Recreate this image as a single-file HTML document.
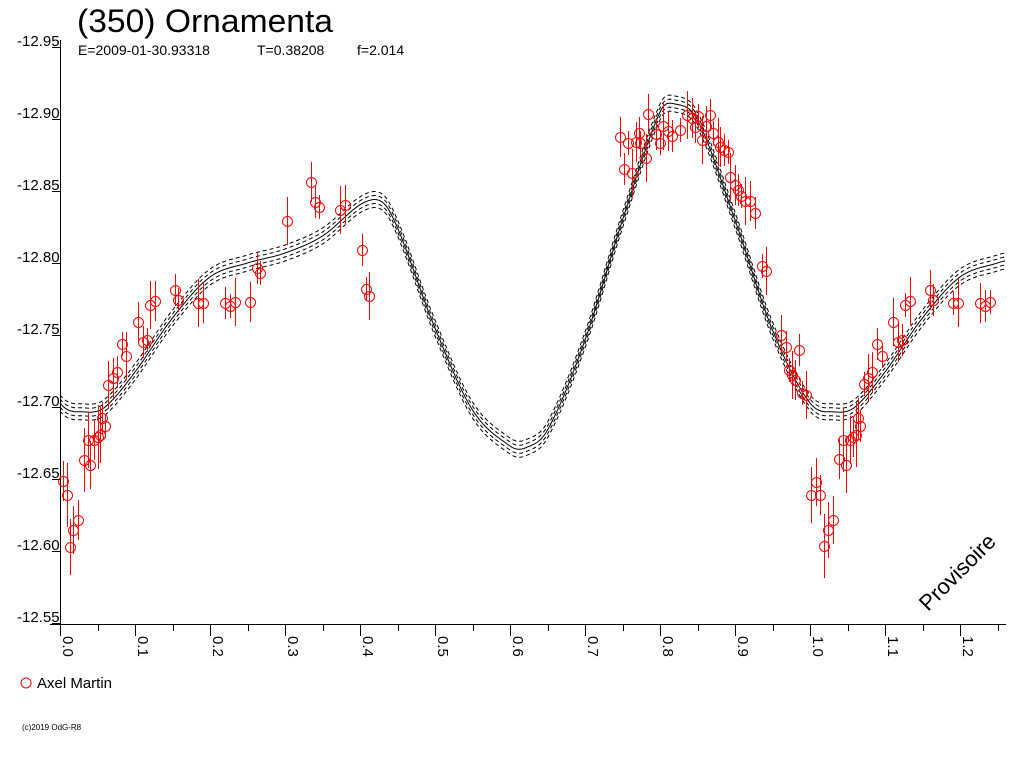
<!DOCTYPE html>
<html><head><meta charset="utf-8"><style>
body{margin:0;background:#fff;width:1024px;height:768px;overflow:hidden;font-family:"Liberation Sans",sans-serif}
svg{position:absolute;left:0;top:0}
</style></head><body>
<svg id="s" width="1024" height="768" xmlns="http://www.w3.org/2000/svg" font-family="Liberation Sans, sans-serif">
<text x="77" y="32" font-size="32" textLength="256" lengthAdjust="spacingAndGlyphs">(350) Ornamenta</text>
<text x="78" y="55" font-size="14">E=2009-01-30.93318</text>
<text x="257" y="55" font-size="14">T=0.38208</text>
<text x="357" y="55" font-size="14">f=2.014</text>
<line x1="60.5" y1="40" x2="60.5" y2="624" stroke="#000"/>
<line x1="50" y1="624.5" x2="1006" y2="624.5" stroke="#000"/>
<g id="ax" font-size="15"></g>
<g id="cv" fill="none" stroke="#000" stroke-width="1"></g>
<g id="pts" fill="none" stroke="#f00" stroke-width="1"></g>
<circle cx="26" cy="683" r="5" fill="none" stroke="#f00"/>
<text x="37" y="688" font-size="15">Axel Martin</text>
<text x="22" y="730" font-size="8">(c)2019 OdG-R8</text>
<text x="0" y="0" font-size="22" transform="translate(928,612) rotate(-45)">Provisoire</text>
</svg>
<script>
var NS="http://www.w3.org/2000/svg";
function el(p,t,a,txt){var e=document.createElementNS(NS,t);for(var k in a)e.setAttribute(k,a[k]);if(txt)e.textContent=txt;p.appendChild(e);return e;}
var ax=document.getElementById('ax');
var labs=["-12.95","-12.90","-12.85","-12.80","-12.75","-12.70","-12.65","-12.60","-12.55"];
for(var i=0;i<9;i++){var y=47+i*72;el(ax,'line',{x1:52,y1:y+.5,x2:61,y2:y+.5,stroke:'#000'});el(ax,'text',{x:17,y:y-1},labs[i]);}
for(var i=0;i<=25;i++){var x=60+i*37.5;var X=Math.round(x)+.5;el(ax,'line',{x1:X,y1:624,x2:X,y2:(i%2?631:636),stroke:'#000'});
 if(i%2==0){el(ax,'text',{transform:'translate('+(Math.round(x)+3)+',636) rotate(90)',x:0,y:0},(i/20).toFixed(1));}}
var cp=[[0,403],[.035,412],[.06,407],[.10,372],[.15,318],[.20,277],[.25,263],[.30,253],[.35,236],[.41,201],[.44,212],[.50,328],[.55,410],[.60,446],[.62,448],[.65,430],[.70,340],[.75,220],[.80,112],[.82,104],[.85,120],[.90,220],[.95,330],[1.0,403]];
function f(p){p=p-Math.floor(p);for(var i=0;i<cp.length-1;i++){if(p<=cp[i+1][0]){var a=cp[Math.max(i-1,0)],b=cp[i],c=cp[i+1],d=cp[Math.min(i+2,cp.length-1)];if(i==0)a=[cp[cp.length-2][0]-1,cp[cp.length-2][1]];if(i+2>=cp.length)d=[1+cp[1][0],cp[1][1]];var t=(p-b[0])/(c[0]-b[0]);var m1=(c[1]-a[1])/(c[0]-a[0])*(c[0]-b[0]),m2=(d[1]-b[1])/(d[0]-b[0])*(c[0]-b[0]);var t2=t*t,t3=t2*t;return (2*t3-3*t2+1)*b[1]+(t3-2*t2+t)*m1+(-2*t3+3*t2)*c[1]+(t3-t2)*m2;}}return cp[cp.length-1][1];}
var cv=document.getElementById('cv');
[[0,''],[-4,'4,3'],[4,'4,3'],[-8,'4,3'],[8,'4,3']].forEach(function(o){var d='';for(var x=60;x<=1005;x+=1){var y=f((x-60)/750)+o[0];d+=(x==60?'M':'L')+x+','+y.toFixed(1);}var a={d:d};if(o[1])a['stroke-dasharray']=o[1];el(cv,'path',a);});
var P=[[63,481],[67,495],[70,547],[73,530],[78,520],[84,460],[88,440],[90,465],[94,440],[98,437],[100,435],[102,418],[105,426],[108,385],[113,378],[117,372],[122,344],[126,356],[138,322],[143,342],[147,340],[150,305],[155,301],[175,290],[178,300],[198,303],[203,303],[225,303],[230,306],[235,302],[250,302],[257,268],[260,273],[287,221],[311,182],[315,202],[319,207],[340,210],[345,205],[362,250],[366,289],[369,296],
[620,137],[624,169],[628,143],[632,173],[636,142],[639,133],[640,143],[646,158],[648,114],[656,134],[660,143],[663,126],[668,131],[672,136],[680,130],[687,115],[692,118],[695,127],[698,116],[702,140],[706,126],[710,115],[713,133],[718,142],[720,147],[724,150],[728,152],[730,177],[735,185],[738,190],[741,196],[745,201],[750,201],[755,213],[762,266],[766,271],[781,335],[786,347],[789,370],[792,375],[795,380],[799,350],[802,393],[806,395],[811,495],[816,482],[820,495],[824,546],[828,530],[833,520],[839,459],[843,440],[846,465],[850,440],[853,437],[856,435],[858,418],[860,426],[864,384],[868,378],[872,372],[877,344],[882,356],[893,322],[898,342],[902,340],[905,305],[910,301],[930,290],[933,300],[953,303],[958,303],[980,303],[985,306],[990,302]];
var g=document.getElementById('pts');
P.forEach(function(p,i){var e=12+((i*7)%4)*4;if(p[1]>430)e+=8;el(g,'line',{x1:p[0]+.5,y1:p[1]-e,x2:p[0]+.5,y2:p[1]+e});el(g,'circle',{cx:p[0]+.5,cy:p[1]+.5,r:5});});
</script>
</body></html>
